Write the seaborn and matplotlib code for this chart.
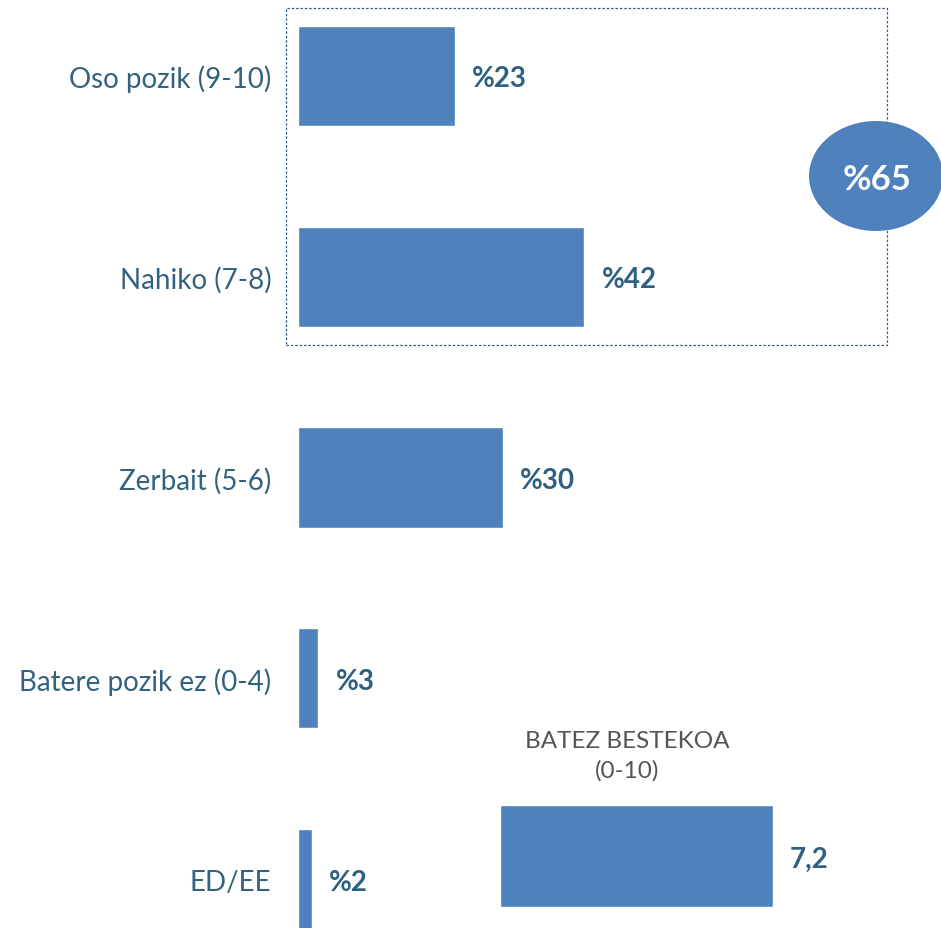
import matplotlib
matplotlib.use("Agg")
import matplotlib.pyplot as plt
from matplotlib.patches import Rectangle, Ellipse
import seaborn as sns
import pandas as pd

categories = ["Oso pozik (9-10)", "Nahiko (7-8)", "Zerbait (5-6)", "Batere pozik ez (0-4)", "ED/EE"]
values = [23, 42, 30, 3, 2]
value_labels = ["%23", "%42", "%30", "%3", "%2"]
group_total_label = "%65"
mean_title = "BATEZ BESTEKOA\n(0-10)"
mean_value = [7.2]
mean_label = ["7,2"]

BAR = "#4f81bd"
LAB = "#2e6080"
CAT = "#33627f"

sns.set_theme(style="white")
plt.rcParams["font.family"] = ["Lato", "DejaVu Sans"]

W, H = 941, 929
fig = plt.figure(figsize=(W / 100, H / 100), dpi=100)

# main axes
x0 = 298
ax = fig.add_axes([x0 / W, 0, (W - x0) / W, 1])
df = pd.DataFrame({"cat": categories, "val": values})
sns.barplot(data=df, y="cat", x="val", orient="h", color=BAR, saturation=1,
            width=0.5, ax=ax)
ax.set_xlim(0, (W - x0) / 6.82)
ax.set_ylim(4 + (H - 880) / 201, -77 / 201)
ax.set_xlabel("")
ax.set_ylabel("")
ax.set_xticks([])
sns.despine(ax=ax, left=True, bottom=True)
ax.tick_params(axis="y", length=0, pad=19, labelsize=20, labelcolor=CAT)
for i, (v, lab) in enumerate(zip(values, value_labels)):
    ax.text(v + 2.5, i, lab, ha="left", va="center_baseline", fontsize=20,
            fontweight="bold", color=LAB)

# dotted group box
fig.patches.append(Rectangle((286 / W, 1 - 346 / H), (887 - 286) / W, (346 - 9) / H,
                             transform=fig.transFigure, fill=False,
                             linestyle=(0, (2, 1.5)), linewidth=0.9,
                             edgecolor="#3a5a7a"))
fig.patches.append(Ellipse((876 / W, 1 - 177 / H), 134 / W, 110 / H,
                           transform=fig.transFigure, facecolor=BAR,
                           edgecolor="none"))
fig.text(877 / W, 1 - 180 / H, group_total_label, ha="center", va="center",
         color="white", fontsize=25, fontweight="bold")

# mean axes
mx0, mx1 = 500, 500 + 10 * 37.9
ax2 = fig.add_axes([mx0 / W, 1 - 929 / H, (mx1 - mx0) / W, (929 - 785) / H])
dfm = pd.DataFrame({"cat": ["mean"], "val": mean_value})
sns.barplot(data=dfm, y="cat", x="val", orient="h", color=BAR, saturation=1,
            width=1.0, ax=ax2)
ax2.set_xlim(0, 10)
ax2.set_ylim(0.5 + 21 / 102, -0.5 - 21 / 102)
ax2.set_axis_off()
ax2.text(mean_value[0] + 0.45, 0, mean_label[0], ha="left", va="center_baseline",
         fontsize=20, fontweight="bold", color=LAB)
fig.text(627 / W, 1 - 756 / H, mean_title, ha="center", va="center",
         fontsize=17.5, color="#555555", linespacing=1.45)

fig.savefig("out.png", dpi=100)
